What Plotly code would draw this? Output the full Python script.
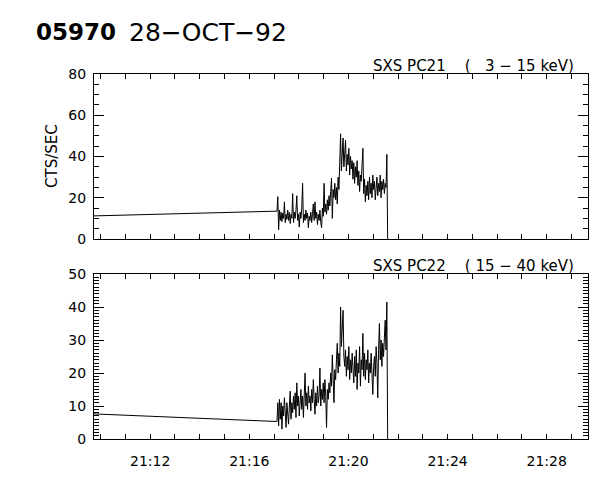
import pandas as pd
import plotly.graph_objects as go

DAY = "1992-10-28"
GAP_TIME = "21:09:44"     # last sample before the data gap
FIRST_TIME = "21:17:07"   # first sample after the gap
STEP = "2s"
X_RANGE = ["21:09:44", "21:29:40"]

# SXS PC21 (3 - 15 keV), counts/s
pc21_gap = 11.2
pc21 = [
    13.5, 20.5, 4.5, 14, 9, 13, 8.5, 12.5, 10, 18,
    8, 12, 9.5, 14, 9, 13, 7.5, 12, 10, 22,
    8, 13, 10, 14, 21, 9, 12, 5.8, 13, 10,
    15, 27, 8, 12, 9, 14, 10, 12.5, 5.5, 11,
    9, 13, 8, 12, 17, 9, 18, 10, 13, 7,
    12, 9, 14, 8, 5.5, 15, 11, 27, 13, 17,
    12, 19, 14, 21, 16, 23, 29.5, 10, 24, 20,
    27, 19, 25, 17, 30, 24, 35, 51, 33, 40,
    49, 35, 42, 48, 33, 41, 36, 44, 31, 40,
    34, 38, 29, 37, 27, 35, 30, 38, 26, 33,
    23, 31, 28, 35, 44, 22, 29, 18, 26, 21,
    28, 19, 30, 22, 27, 20, 31, 24, 28, 19,
    26, 30, 21, 27, 23, 31, 20, 28, 24, 29,
    22, 27, 25, 41, 0,
]

# SXS PC22 (15 - 40 keV), counts/s
pc22_gap = 7.6
pc22 = [
    5.3, 11, 4, 12, 6, 11, 3, 10, 7, 12.5,
    9, 3.5, 11, 7, 4.5, 10, 14.5, 6, 11, 8,
    13, 9, 14, 6.5, 17, 10, 13, 7, 12, 15,
    9, 13, 6.5, 12, 20, 10, 14, 9, 16, 11,
    13, 8.5, 15, 11, 18, 12, 7.5, 14, 10, 16,
    11, 13, 21.5, 10, 15, 12, 17, 11, 18, 13,
    3.5, 15, 12, 17, 14, 20, 16, 25.5, 18, 11,
    21, 18, 24, 29, 20, 26, 22, 40, 28, 35,
    39, 25, 22, 27, 19, 25, 21, 28, 18, 24,
    20, 26, 22, 17, 25, 19, 27, 15, 23, 20,
    28, 16, 24, 21, 32, 19, 26, 18, 24, 21,
    27, 17, 23, 20, 26, 18, 13.5, 22, 25, 19,
    28, 23, 12.5, 27, 35, 24, 30, 22, 29, 25,
    31, 36, 27, 41.5, 0,
]

FONT = "DejaVu Sans"
NB = "\u00a0"
MINUS = "\u2212"

W, H = 600, 480
PAGE_OFFSET = 8  # the html body margin shifts the figure by this much


def _px_x(x):
    # window pixel -> paper fraction
    return (x - PAGE_OFFSET) / W


def _px_y(y):
    return (H - (y - PAGE_OFFSET)) / H


def _series_times(n):
    grid = pd.date_range(f"{DAY} {FIRST_TIME}", periods=n, freq=STEP)
    return [pd.Timestamp(f"{DAY} {GAP_TIME}")] + list(grid)


fig = go.Figure()

fig.add_trace(go.Scatter(
    x=_series_times(len(pc21)), y=[pc21_gap] + pc21,
    mode="lines", line=dict(color="black", width=1),
    xaxis="x", yaxis="y", showlegend=False,
))
fig.add_trace(go.Scatter(
    x=_series_times(len(pc22)), y=[pc22_gap] + pc22,
    mode="lines", line=dict(color="black", width=1),
    xaxis="x2", yaxis="y2", showlegend=False,
))

x_common = dict(
    type="date",
    range=[f"{DAY} {X_RANGE[0]}", f"{DAY} {X_RANGE[1]}"],
    tick0=f"{DAY} 21:12:00",
    dtick=240000,
    tickformat="%H:%M",
    ticks="inside",
    ticklen=5,
    tickcolor="black",
    minor=dict(dtick=60000, ticks="inside", ticklen=5, tickcolor="black"),
    showline=True,
    linecolor="black",
    linewidth=1,
    mirror="ticks",
    showgrid=False,
    zeroline=False,
    automargin=False,
    ticklabelstandoff=9,
    tickfont=dict(family=FONT, size=14, color="black"),
    domain=[_px_x(94), _px_x(588)],
)
y_common = dict(
    ticks="inside",
    ticklen=10,
    tickcolor="black",
    showline=True,
    linecolor="black",
    linewidth=1,
    mirror="ticks",
    showgrid=False,
    zeroline=False,
    automargin=False,
    ticklabelstandoff=4,
    tickfont=dict(family=FONT, size=14, color="black"),
)

title_font = dict(family=FONT, size=15, color="black")

fig.update_layout(
    width=W,
    height=H,
    margin=dict(l=0, r=0, t=0, b=0),
    paper_bgcolor="white",
    plot_bgcolor="white",
    xaxis=dict(x_common, anchor="y", showticklabels=False),
    yaxis=dict(y_common, range=[0, 80], dtick=20,
               domain=[_px_y(239), _px_y(74)], anchor="x",
               minor=dict(dtick=5, ticks="inside", ticklen=5, tickcolor="black")),
    xaxis2=dict(x_common, anchor="y2"),
    yaxis2=dict(y_common, range=[0, 50], dtick=10,
                domain=[_px_y(439), _px_y(274)], anchor="x2",
                minor=dict(dtick=1, ticks="inside", ticklen=5, tickcolor="black")),
    annotations=[
        dict(text="<b>05970</b>",
             x=_px_x(34), y=_px_y(32), xref="paper", yref="paper",
             xanchor="left", yanchor="middle", showarrow=False,
             font=dict(family=FONT, size=23, color="black")),
        dict(text="28" + MINUS + "OCT" + MINUS + "92",
             x=_px_x(127), y=_px_y(32), xref="paper", yref="paper",
             xanchor="left", yanchor="middle", showarrow=False,
             font=dict(family=FONT, size=25, color="black")),
        dict(text="SXS PC21" + NB * 4 + "(" + NB * 3 + "3" + NB + MINUS
             + NB + "15" + NB + "keV)",
             x=_px_x(576), y=_px_y(66), xref="paper", yref="paper",
             xanchor="right", yanchor="middle", showarrow=False,
             font=title_font),
        dict(text="SXS PC22" + NB * 4 + "(" + NB + "15" + NB + MINUS
             + NB + "40" + NB + "keV)",
             x=_px_x(576), y=_px_y(266), xref="paper", yref="paper",
             xanchor="right", yanchor="middle", showarrow=False,
             font=title_font),
        dict(text="CTS/SEC", textangle=-90,
             x=_px_x(52), y=_px_y(156), xref="paper", yref="paper",
             xanchor="center", yanchor="middle", showarrow=False,
             font=dict(family=FONT, size=15, color="black")),
    ],
)

fig.write_html("out.html")
